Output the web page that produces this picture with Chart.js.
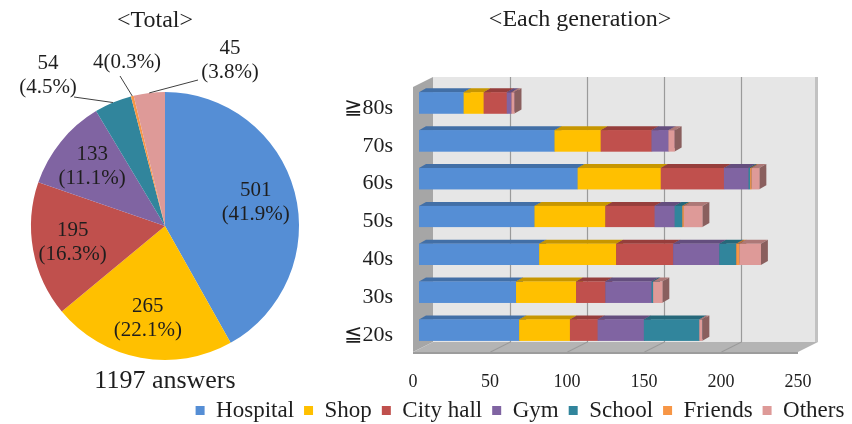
<!DOCTYPE html>
<html>
<head>
<meta charset="utf-8">
<script src="https://cdn.jsdelivr.net/npm/chart.js@4.4.0/dist/chart.umd.min.js"></script>
<style>
    html, body { margin: 0; padding: 0; background: #fff; overflow: hidden; width: 852px; height: 424px; }
    #totalChart { position: absolute; left: 0; top: 0; }
    #generationChart { position: absolute; left: 170px; top: 0; }
</style>
</head>
<body>
<canvas id="totalChart" width="330" height="424"></canvas>
<canvas id="generationChart" width="700" height="432"></canvas>
<script>
// answers per place, all ages
const categories = ["Hospital", "Shop", "City hall", "Gym", "School", "Friends", "Others"];
const totals = [501, 265, 195, 133, 54, 4, 45];

// answers per place for each generation
const generations = ["≧80s", "70s", "60s", "50s", "40s", "30s", "≦20s"];
const hospital = [29, 88, 103, 75, 78, 63, 65];
const shop = [13, 30, 54, 46, 50, 39, 33];
const cityHall = [15, 33, 41, 32, 37, 19, 18];
const gym = [3, 11, 16, 13, 30, 30, 30];
const school = [0, 0, 1, 5, 11, 1, 36];
const friends = [0, 0, 1, 1, 2, 0, 0];
const others = [2, 4, 5, 12, 14, 6, 2];
const xTicks = [0, 50, 100, 150, 200, 250];

const series = [hospital, shop, cityHall, gym, school, friends, others];
const colors = ["#558ed5", "#ffc000", "#c0504d", "#8064a2", "#31859c", "#f79646", "#de9a98"];
const SERIF = "'Liberation Serif', 'Times New Roman', serif";
const TEXT = "#1e1e1e";

function shade(hex, f) {
    const n = parseInt(hex.slice(1), 16);
    const r = Math.round(((n >> 16) & 255) * f);
    const g = Math.round(((n >> 8) & 255) * f);
    const b = Math.round((n & 255) * f);
    return "rgb(" + r + "," + g + "," + b + ")";
}

function poly(ctx, pts, fill) {
    ctx.beginPath();
    ctx.moveTo(pts[0][0], pts[0][1]);
    for (let i = 1; i < pts.length; i++) ctx.lineTo(pts[i][0], pts[i][1]);
    ctx.closePath();
    ctx.fillStyle = fill;
    ctx.fill();
}

/*=========================================
PIE : TOTAL
=========================================*/

// small slices get their label outside, with a leader line
// at: label centre from pie centre, lead: leader end from label centre
const callouts = {
    4: { at: [-117, -151], lead: [26, 22], two: true },
    5: { at: [-38, -164], lead: [-7, 14], two: false },
    6: { at: [65, -166], lead: [-32, 20], two: true }
};

const pieLabels = {
    id: "pieLabels",
    afterDatasetsDraw(chart) {
        const ctx = chart.ctx;
        const meta = chart.getDatasetMeta(0);
        const values = chart.data.datasets[0].data;
        const sum = values.reduce((a, b) => a + b, 0);

        ctx.save();
        ctx.font = "21px " + SERIF;
        ctx.fillStyle = TEXT;
        ctx.textAlign = "center";
        ctx.textBaseline = "middle";

        meta.data.forEach((arc, i) => {
            const pct = (values[i] / sum * 100).toFixed(1) + "%";
            const mid = (arc.startAngle + arc.endAngle) / 2;
            const c = callouts[i];

            if (!c) {
                const r = arc.outerRadius * 0.7;
                const x = arc.x + Math.cos(mid) * r;
                const y = arc.y + Math.sin(mid) * r;
                ctx.fillText(String(values[i]), x, y - 12);
                ctx.fillText("(" + pct + ")", x, y + 12);
                return;
            }

            const lx = arc.x + c.at[0];
            const ly = arc.y + c.at[1];
            if (c.two) {
                ctx.fillText(String(values[i]), lx, ly - 12);
                ctx.fillText("(" + pct + ")", lx, ly + 12);
            } else {
                ctx.fillText(values[i] + "(" + pct + ")", lx, ly);
            }

            ctx.beginPath();
            ctx.moveTo(lx + c.lead[0], ly + c.lead[1]);
            ctx.lineTo(arc.x + Math.cos(mid) * arc.outerRadius, arc.y + Math.sin(mid) * arc.outerRadius);
            ctx.strokeStyle = "#404040";
            ctx.lineWidth = 1;
            ctx.stroke();
        });

        ctx.font = "24px " + SERIF;
        ctx.fillText("<Total>", 155, 21);
        ctx.font = "26px " + SERIF;
        ctx.fillText(sum + " answers", 165, 381);
        ctx.restore();
    }
};

new Chart(document.getElementById("totalChart"), {
    type: "pie",
    data: {
        labels: categories,
        datasets: [{
            data: totals,
            backgroundColor: colors,
            borderWidth: 0,
            hoverOffset: 0
        }]
    },
    options: {
        responsive: false,
        animation: false,
        layout: { padding: { left: 31, right: 31, top: 92, bottom: 64 } },
        plugins: {
            legend: { display: false },
            tooltip: { enabled: false }
        }
    },
    plugins: [pieLabels]
});

/*=========================================
BARS : EACH GENERATION (3D look)
=========================================*/

const FRONT = [-6, 3];   // front edge of the box, from the bar face plane
const BACK = [14, -7];   // back wall
const BAR = [7, -4];     // depth of one bar

const box3d = {
    id: "box3d",
    beforeDatasetsDraw(chart) {
        const { ctx, chartArea: a, scales: { x } } = chart;
        const x0 = x.getPixelForValue(x.min);
        const x1 = x.getPixelForValue(x.max);
        const top = a.top, bot = a.bottom;

        ctx.save();
        // back wall
        ctx.fillStyle = "#e6e6e6";
        ctx.fillRect(x0 + BACK[0], top + BACK[1], x1 - x0, bot - top);
        ctx.fillStyle = "#c2c2c2";
        ctx.fillRect(x1 + BACK[0] - 3, top + BACK[1], 3, bot - top);

        // left wall
        poly(ctx, [
            [x0 + FRONT[0], top + FRONT[1]], [x0 + BACK[0], top + BACK[1]],
            [x0 + BACK[0], bot + BACK[1]], [x0 + FRONT[0], bot + FRONT[1]]
        ], "#a6a6a6");

        // floor
        poly(ctx, [
            [x0 + FRONT[0], bot + FRONT[1]], [x1 + FRONT[0], bot + FRONT[1]],
            [x1 + BACK[0], bot + BACK[1]], [x0 + BACK[0], bot + BACK[1]]
        ], "#b4b4b4");
        ctx.fillStyle = "#9c9c9c";
        ctx.fillRect(x0 + FRONT[0], bot + FRONT[1], x1 - x0, 2);

        // grid lines, wall and floor
        ctx.strokeStyle = "#9a9a9a";
        ctx.lineWidth = 1.2;
        xTicks.forEach(v => {
            if (v === x.min || v === x.max) return;
            const p = Math.round(x.getPixelForValue(v)) + 0.5;
            ctx.beginPath();
            ctx.moveTo(p + BACK[0], top + BACK[1]);
            ctx.lineTo(p + BACK[0], bot + BACK[1]);
            ctx.lineTo(p + FRONT[0], bot + FRONT[1]);
            ctx.stroke();
        });
        ctx.restore();
    },
    afterDatasetsDraw(chart) {
        const ctx = chart.ctx;
        ctx.save();
        chart.data.datasets.forEach((ds, di) => {
            const c = ds.backgroundColor;
            chart.getDatasetMeta(di).data.forEach(bar => {
                const { x, y, base, height } = bar.getProps(["x", "y", "base", "height"], true);
                if (x - base <= 0.01) return;
                const t = y - height / 2, b = y + height / 2;
                poly(ctx, [[base, t], [x, t], [x + BAR[0], t + BAR[1]], [base + BAR[0], t + BAR[1]]], shade(c, 0.78));
                poly(ctx, [[x, t], [x + BAR[0], t + BAR[1]], [x + BAR[0], b + BAR[1]], [x, b]], shade(c, 0.62));
                ctx.fillStyle = c;
                ctx.fillRect(base, t, x - base, b - t);
            });
        });

        ctx.font = "24px " + SERIF;
        ctx.fillStyle = TEXT;
        ctx.textAlign = "center";
        ctx.textBaseline = "middle";
        ctx.fillText("<Each generation>", 410, 20);
        ctx.restore();
    }
};

new Chart(document.getElementById("generationChart"), {
    type: "bar",
    data: {
        labels: generations,
        datasets: series.map((d, i) => ({
            label: categories[i],
            data: d,
            yAxisID: "y",
            backgroundColor: colors[i],
            borderWidth: 0,
            barPercentage: 0.56,
            categoryPercentage: 1
        }))
    },
    options: {
        indexAxis: "y",
        responsive: false,
        animation: false,
        layout: { padding: { top: 84, left: 0, right: 0, bottom: 0 } },
        scales: {
            x: {
                stacked: true,
                min: 0,
                max: 250,
                afterBuildTicks(s) { s.ticks = xTicks.map(v => ({ value: v })); },
                ticks: { labelOffset: -6, padding: 22, color: TEXT, font: { family: SERIF, size: 18 } },
                grid: { display: false, drawTicks: false },
                border: { display: false },
                afterFit(s) { s.height = 40; }
            },
            y: {
                stacked: true,
                ticks: { padding: 26, labelOffset: 5, color: TEXT, font: { family: SERIF, size: 22 } },
                grid: { display: false, drawTicks: false },
                border: { display: false },
                afterFit(s) { s.width = 249; }
            },
            yRight: {
                type: "category",
                position: "right",
                ticks: { display: false },
                grid: { display: false, drawTicks: false },
                border: { display: false },
                afterFit(s) { s.width = 66; }
            }
        },
        plugins: {
            legend: {
                position: "bottom",
                labels: {
                    color: TEXT,
                    font: { family: SERIF, size: 23 },
                    boxWidth: 9,
                    boxHeight: 9,
                    padding: 10
                }
            },
            tooltip: { enabled: false }
        }
    },
    plugins: [box3d]
});
</script>
</body>
</html>
